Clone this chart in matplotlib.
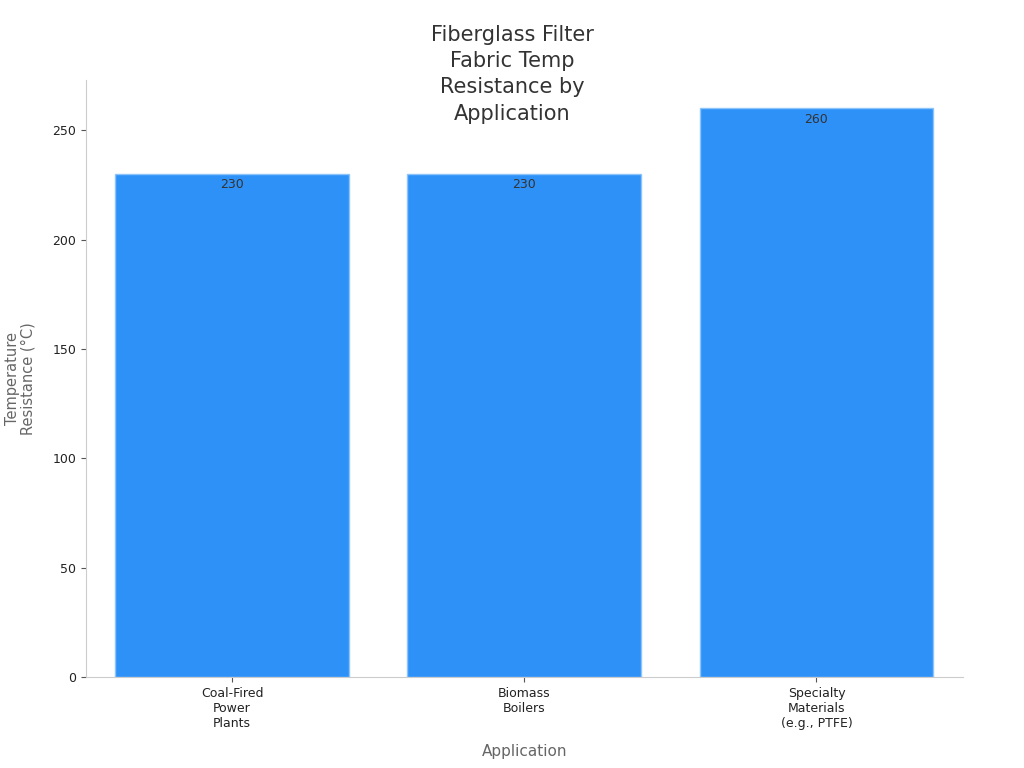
import matplotlib
matplotlib.use('Agg')
import matplotlib.pyplot as plt

# data
applications = ['Coal-Fired\nPower\nPlants', 'Biomass\nBoilers', 'Specialty\nMaterials\n(e.g., PTFE)']
temps = [230, 230, 260]

fig = plt.figure(figsize=(10.24, 7.68), dpi=100)
ax = fig.add_axes([0.084, 0.1185, 0.856, 0.7775])

bars = ax.bar(range(len(applications)), temps, width=0.8, color='#2E91F8',
              edgecolor='#8CC4FA', linewidth=1)

for b, v in zip(bars, temps):
    ax.text(b.get_x() + b.get_width() / 2, v - 2, str(v), ha='center', va='top',
            fontsize=9, color='#333333')

ax.set_xlim(-0.5, 2.5)
ax.set_ylim(0, 273)
ax.set_xticks(range(len(applications)))
ax.set_xticklabels(applications, fontsize=9, color='#222222')
ax.set_yticks([0, 50, 100, 150, 200, 250])
ax.tick_params(axis='y', labelsize=9, labelcolor='#222222', color='#555555')
ax.tick_params(axis='x', color='#555555')

for s in ['top', 'right']:
    ax.spines[s].set_visible(False)
for s in ['left', 'bottom']:
    ax.spines[s].set_color('#cccccc')

ax.set_xlabel('Application', fontsize=11, color='#666666', labelpad=10)
ax.set_ylabel('Temperature\nResistance (°C)', fontsize=10.5, color='#666666', labelpad=12,
              linespacing=1.1)

fig.text(0.5, 0.968, 'Fiberglass Filter\nFabric Temp\nResistance by\nApplication',
         ha='center', va='top', fontsize=15, color='#333333', linespacing=1.4)

fig.savefig('out.png', dpi=100)
